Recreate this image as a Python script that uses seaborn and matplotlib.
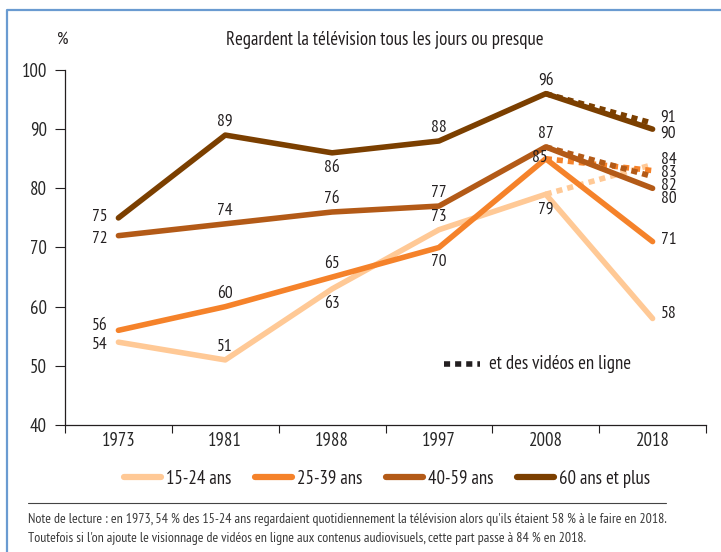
import numpy as np
import pandas as pd
import seaborn as sns
import matplotlib.pyplot as plt
from matplotlib.lines import Line2D
from matplotlib import font_manager as fm

# data
years = ["1973", "1981", "1988", "1997", "2008", "2018"]
groups = ["15-24 ans", "25-39 ans", "40-59 ans", "60 ans et plus"]
tv_15_24 = [54, 51, 63, 73, 79, 58]
tv_25_39 = [56, 60, 65, 70, 85, 71]
tv_40_59 = [72, 74, 76, 77, 87, 80]
tv_60_plus = [75, 89, 86, 88, 96, 90]
# 2018 values when online videos are added (dashed segment from 2008)
online_2018 = [84, 83, 82, 91]

colors = ["#FFC996", "#F5822A", "#B35A17", "#7B3F00"]

# pick a condensed face close to the original one
installed = {f.name for f in fm.fontManager.ttflist}
narrow = [n for n in ["PT Sans Narrow", "Roboto Condensed", "Open Sans Condensed",
                      "Fira Sans Condensed", "Archivo Narrow", "Liberation Sans Narrow"]
          if n in installed]

sns.set_theme(style="white")
plt.rcParams["font.family"] = narrow[:1] + ["DejaVu Sans"]
plt.rcParams["text.color"] = "#231f20"

series = [tv_15_24, tv_25_39, tv_40_59, tv_60_plus]
df = pd.DataFrame({
    "year": years * 4,
    "x": list(range(len(years))) * 4,
    "value": sum(series, []),
    "group": np.repeat(groups, len(years)),
})
df_online = pd.DataFrame({
    "x": [4, 5] * 4,
    "value": sum([[s[4], o] for s, o in zip(series, online_2018)], []),
    "group": np.repeat(groups, 2),
})

fig = plt.figure(figsize=(7.21, 5.52), dpi=100)
ax = fig.add_axes([65 / 721, 1 - 425 / 552, 641 / 721, 355 / 552])

pal = dict(zip(groups, colors))
sns.lineplot(data=df_online, x="x", y="value", hue="group", palette=pal,
             lw=4, ax=ax, legend=False, zorder=2,
             dashes=False, linestyle=(0, (1.1, 0.9)))
sns.lineplot(data=df, x="x", y="value", hue="group", palette=pal,
             lw=4, ax=ax, legend=False, zorder=3)

ax.set_xlim(-0.5, 5.5)
ax.set_ylim(40, 100)
ax.set_yticks(range(40, 101, 10))
ax.set_xticks(range(len(years)))
ax.set_xticklabels(years)
ax.set_xticks(np.arange(-0.5, 5.6, 1), minor=True)
ax.tick_params(axis="x", which="major", length=0, pad=5, labelsize=13.5)
ax.tick_params(axis="x", which="minor", length=6, width=0.8, color="#231f20", direction="out", bottom=True)
ax.tick_params(axis="y", length=7, width=0.8, color="#231f20", direction="out", left=True, pad=6, labelsize=13.5)
ax.set_xlabel("")
ax.set_ylabel("")
sns.despine(ax=ax)
for s in ["left", "bottom"]:
    ax.spines[s].set_color("#231f20")
    ax.spines[s].set_linewidth(0.9)

# value labels: l = left, a = above, b = below, c = on the point, r = right
place = [
    ["l", "a", "b", "a", "b", "r"],
    ["l", "a", "a", "b", "c", "r"],
    ["l", "a", "a", "a", "a", "r"],
    ["l", "a", "b", "a", "a", "r"],
]
left_shift = [-3, 4, -3, 1]
right_shift = [4, 1.5, -11, -4]
online_shift = [4.5, -2.6, -10, 6]
px = 0.72
for vals, pos, ls, rs in zip(series, place, left_shift, right_shift):
    for i, (v, p) in enumerate(zip(vals, pos)):
        if p == "l":
            off, ha = (-11 * px, ls * px), "right"
        elif p == "a":
            off, ha = (0, 13 * px), "center"
        elif p == "b":
            off, ha = (0, -15 * px), "center"
        elif p == "c":
            off, ha = (-6 * px, 1 * px), "center"
        else:
            off, ha = (8 * px, rs * px), "left"
        ax.annotate(str(v), (i, v), xytext=off, textcoords="offset points",
                    ha=ha, va="center", fontsize=12.5)
for v, rs in zip(online_2018, online_shift):
    ax.annotate(str(v), (5, v), xytext=(8 * px, rs * px), textcoords="offset points",
                ha="left", va="center", fontsize=12.5)

# inner key for the dashed segments
ax.plot([3.05, 3.38], [50.3, 50.3], color="#231f20", lw=4, ls=(0, (1.1, 0.9)))
ax.text(3.47, 50.3, "et des vidéos en ligne", va="center", fontsize=13.5)

fig.text(63 / 721, 1 - 40 / 552, "%", ha="center", va="center", fontsize=13)
fig.text(385 / 721, 1 - 40 / 552, "Regardent la télévision tous les jours ou presque",
         ha="center", va="center", fontsize=13.5)

handles = [Line2D([], [], color=c, lw=4.5) for c in colors]
fig.legend(handles, groups, loc="center", bbox_to_anchor=(387 / 721, 1 - 479 / 552),
           ncol=4, frameon=False, fontsize=13.5, handlelength=2.0,
           columnspacing=1.25, handletextpad=0.25)

fig.add_artist(Line2D([28 / 721, 666 / 721], [1 - 503 / 552] * 2, color="#444444", lw=0.8))
fig.text(28 / 721, 1 - 520 / 552,
         "Note de lecture : en 1973, 54 % des 15-24 ans regardaient quotidiennement la télévision alors qu'ils étaient 58 % à le faire en 2018.",
         ha="left", va="center", fontsize=10, color="#3a3a3a")
fig.text(28 / 721, 1 - 538 / 552,
         "Toutefois si l'on ajoute le visionnage de vidéos en ligne aux contenus audiovisuels, cette part passe à 84 % en 2018.",
         ha="left", va="center", fontsize=10, color="#3a3a3a")

# blue frame, top and left edges
fig.add_artist(Line2D([7 / 721, 7 / 721, 1], [0, 1 - 10 / 552, 1 - 10 / 552],
                      color="#6a9bd1", lw=1.6))

fig.savefig("out.png", dpi=100)
